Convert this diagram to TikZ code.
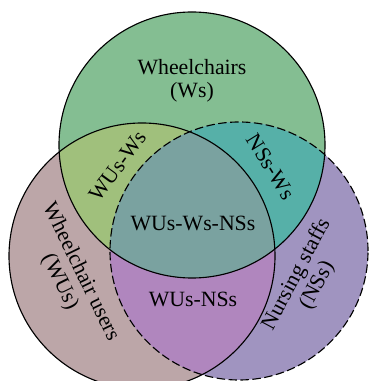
\documentclass[tikz,border=0pt]{standalone}
\usepackage{fontspec}
\setmainfont{Liberation Serif}
\usepackage{tikz}
\definecolor{wsgreen}{RGB}{132,190,146}
\definecolor{wugrey}{RGB}{188,166,168}
\definecolor{nslilac}{RGB}{160,148,192}
\definecolor{wuwsolive}{RGB}{160,192,124}
\definecolor{nswsteal}{RGB}{86,176,168}
\definecolor{wunspurple}{RGB}{176,134,190}
\definecolor{allgrey}{RGB}{122,162,160}

\begin{document}
\begin{tikzpicture}[x=0.25mm,y=0.25mm,
lab/.style={font=\fontsize{15.5}{16.5}\selectfont,align=center,inner sep=0pt},
rim/.style={draw=black,line width=0.8pt},
dashrim/.style={rim,dash pattern=on 6pt off 2.5pt}
]
\useasboundingbox (0,0) rectangle (369,381);
\clip (0,0) rectangle (369,381);
\coordinate (ws) at (192,236);
\coordinate (wu) at (142,125);
\coordinate (ns) at (239,130);
% single sets
\fill[wsgreen] (ws) circle[radius=133];
\fill[wugrey] (wu) circle[radius=133];
\fill[nslilac] (ns) circle[radius=129];
% overlaps
\begin{scope}
\clip (wu) circle[radius=133];
\fill[wuwsolive] (ws) circle[radius=133];
\fill[wunspurple] (ns) circle[radius=129];
\end{scope}
\begin{scope}
\clip (ns) circle[radius=129];
\fill[nswsteal] (ws) circle[radius=133];
\clip (wu) circle[radius=133];
\fill[allgrey] (ws) circle[radius=133];
\end{scope}
% outlines
\draw[rim] (ws) circle[radius=133];
\draw[rim] (wu) circle[radius=133];
\draw[dashrim] (ns) circle[radius=129];
% labels
\node[lab] (wslab) at (192,300) {Wheelchairs\\(Ws)};
\node[lab,rotate=54] (wuwslab) at (118,215) {WUs-Ws};
\node[lab,rotate=-58] (nswslab) at (271,214) {NSs-Ws};
\node[lab] (alllab) at (193,158) {WUs-Ws-NSs};
\node[lab] (wunslab) at (193,82) {WUs-NSs};
\node[lab,rotate=-64] (wulab) at (70,104) {Wheelchair users\\(WUs)};
\node[lab,rotate=62] (nslab) at (307,101) {Nursing staffs\\(NSs)};
\end{tikzpicture}
\end{document}
